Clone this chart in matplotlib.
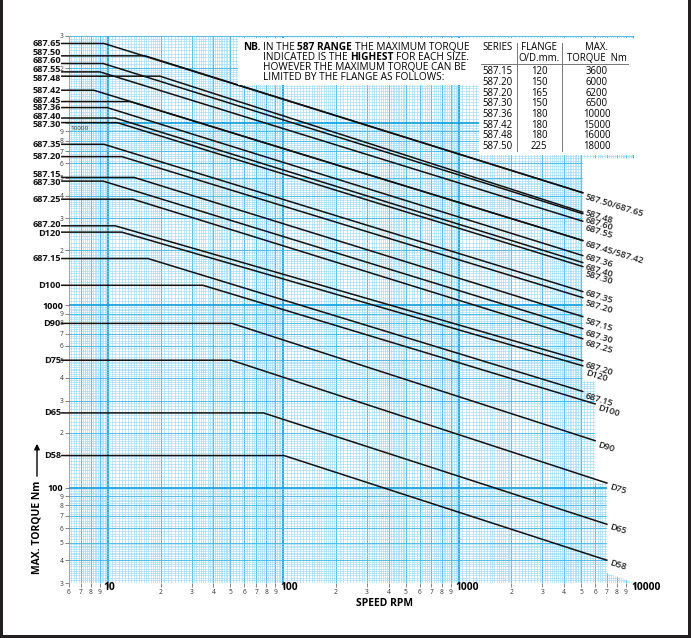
import numpy as np
import matplotlib
matplotlib.use('Agg')
import matplotlib.pyplot as plt
from matplotlib.patches import Rectangle, Polygon
from matplotlib.ticker import FixedLocator, FixedFormatter, NullFormatter

plt.rcParams['font.family'] = ['Open Sans', 'DejaVu Sans']

W, H = 691, 638

# curves: flat torque up to the knee, then down to the end point
series = ['687.65', '587.50', '687.60', '687.55', '587.48', '587.42', '687.45',
          '587.36', '687.40', '587.30', '687.35', '587.20', '587.15', '687.30',
          '687.25', '687.20', 'D120', '687.15', 'D100', 'D90', 'D75', 'D65', 'D58']
flat_torque = [27300, 23350, 21200, 19070, 18060, 15130, 13110, 12150, 10650, 10050,
               7640, 6540, 5030, 4800, 3820, 2730, 2520, 1806, 1288, 796, 500, 257, 150]
knee_rpm = [9.5, 16.3, 9.4, 9.0, 19.8, 8.3, 13.4, 9.9, 11.0, 11.3, 9.5, 12.0, 14.1,
            9.4, 13.9, 11.0, 12.0, 16.9, 34.8, 51.0, 50.5, 77.0, 101.0]
end_rpm = [5100, 5100, 5100, 5100, 5100, 5100, 5100, 5100, 5100, 5100, 5100, 5100,
           5100, 5100, 5100, 5100, 5100, 5100, 6000, 6000, 7000, 7000, 7000]
end_torque = [4145, 4145, 3180, 2893, 3243, 2267, 2267, 1875, 1716, 1632, 1190, 1102,
              867, 745, 656, 497, 466, 337, 288, 181, 106, 63, 40]
end_labels = ['587.50/687.65', '', '687.60', '687.55', '587.48', '687.45/587.42', '',
              '687.36', '687.40', '587.30', '687.35', '587.20', '587.15', '687.30',
              '687.25', '687.20', 'D120', '687.15', 'D100', 'D90', 'D75', 'D65', 'D58']

# flange table
tbl_series = ['587.15', '587.20', '587.20', '587.30', '587.36', '587.42', '587.48', '587.50']
tbl_flange = ['120', '150', '165', '150', '180', '180', '180', '225']
tbl_torque = ['3600', '6000', '6200', '6500', '10000', '15000', '16000', '18000']

x_major = [10, 100, 1000, 10000]
x_minor = [6, 7, 8, 9, 20, 30, 40, 50, 60, 70, 80, 90, 200, 300, 400, 500, 600, 700,
           800, 900, 2000, 3000, 4000, 5000, 6000, 7000, 8000, 9000]
y_major = [100, 1000, 10000]
y_minor = [30, 40, 50, 60, 70, 80, 90, 200, 300, 400, 500, 600, 700, 800, 900, 2000,
           3000, 4000, 5000, 6000, 7000, 8000, 9000, 20000, 30000]

# label nudges in pixels, layout only
right_nudge = {'587.48': 0, '687.60': 6, '687.55': 6, '687.36': 1, '587.30': 7,
               '687.35': 1, '587.20': 5, 'D120': 7, '687.45/587.42': 3, 'D65': 2, 'D58': 2}
left_nudge = {'587.50': 3, '687.60': 3, '687.55': 2.5, '587.48': -2, '687.40': 2,
              '587.30': -1.5, '687.45': 1.5, '587.36': 0, '587.15': 3, '687.30': -1.5,
              '687.20': 1, 'D120': -1}

fig = plt.figure(figsize=(W / 100, H / 100), dpi=100)
ax = fig.add_axes([69 / W, 55 / H, 565 / W, 547 / H])
ax.set_xscale('log')
ax.set_yscale('log')
ax.set_xlim(6, 10000)
ax.set_ylim(30, 30000)
for s in ax.spines.values():
    s.set_visible(False)


def paper_lines(lo, hi):
    fine, mid, major = [], [], []
    steps = np.round(np.concatenate([np.arange(1, 2, 0.05), np.arange(2, 5, 0.1),
                                     np.arange(5, 10, 0.2)]), 2)
    d = 1
    while d <= hi:
        for m in steps:
            v = m * d
            if v < lo * 0.999 or v > hi * 1.001:
                continue
            if m == 1:
                major.append(v)
            elif m == int(m):
                mid.append(v)
            else:
                fine.append(v)
        d *= 10
    return fine, mid, major


gx = paper_lines(6, 10000)
gy = paper_lines(30, 30000)
styles = [('#8fd6f4', 0.38), ('#45b9e8', 0.65), ('#1ca3de', 1.3)]
for vals, (c, lw) in zip(gx, styles):
    ax.vlines(vals, 30, 30000, color=c, lw=lw, zorder=1)
for vals, (c, lw) in zip(gy, styles):
    ax.hlines(vals, 6, 10000, color=c, lw=lw, zorder=1)

# white cut-out on the right where the paper stops
ax.add_patch(Polygon([(5100, 6400), (10000, 6400), (10000, 30), (7000, 34), (7000, 106),
                      (6000, 106), (6000, 385), (5100, 385)],
                     closed=True, facecolor='white', edgecolor='none', zorder=2))

for name, t0, n0, n1, t1, lab in zip(series, flat_torque, knee_rpm, end_rpm, end_torque, end_labels):
    ax.plot([5.46, n0, n1], [t0, t0, t1], color='#111111', lw=1.1, zorder=3,
            clip_on=False, solid_joinstyle='miter')
    ax.annotate(name, (5.46, t0), xytext=(-1, left_nudge.get(name, 0)), textcoords='offset pixels',
                ha='right', va='center', fontsize=6.6, fontweight='bold',
                color='#111111', annotation_clip=False, zorder=5)
    if lab:
        ax.annotate(lab, (n1, t1), xytext=(3, -right_nudge.get(lab, 4)), textcoords='offset pixels',
                    ha='left', va='center', rotation=-17, rotation_mode='anchor',
                    fontsize=6.6, fontweight='semibold', color='#222222',
                    annotation_clip=False, zorder=5)

ax.xaxis.set_major_locator(FixedLocator(x_major))
ax.xaxis.set_major_formatter(NullFormatter())
ax.xaxis.set_minor_locator(FixedLocator(x_minor))
ax.xaxis.set_minor_formatter(FixedFormatter([str(v)[0] for v in x_minor]))
ax.yaxis.set_major_locator(FixedLocator(y_major))
ax.yaxis.set_major_formatter(FixedFormatter(['100', '1000', '']))
ax.yaxis.set_minor_locator(FixedLocator(y_minor))
ax.yaxis.set_minor_formatter(FixedFormatter([str(v)[0] for v in y_minor]))
ax.tick_params(which='both', direction='out', length=3, width=0.5, color='#555555', pad=1)
ax.tick_params(which='minor', labelsize=4.8, labelcolor='#333333')
ax.tick_params(which='major', labelsize=6.5)
for lab in ax.get_yticklabels():
    lab.set_fontweight('bold')

# decade labels on the speed axis sit just right of their tick
for v in x_major:
    ax.annotate(str(v), (v, 30), xytext=(1 if v == 10 else -3, -5), textcoords='offset pixels',
                ha='center' if v == 10 else 'left', va='center', fontsize=7.4,
                fontweight='bold', annotation_clip=False)
ax.text(6.15, 9600, '10000', fontsize=4.5, color='#333333', va='top', ha='left', zorder=5)


def fx(x):
    return x / W


def fy(y):
    return 1 - y / H


fig.text(fx(384), fy(603), 'SPEED RPM', fontsize=7.5, fontweight='bold', ha='center', va='center')
fig.text(fx(37), fy(527), 'MAX. TORQUE Nm', fontsize=7.5, fontweight='bold', rotation=90,
         ha='center', va='center')
ax.annotate('', xy=(fx(37), fy(441)), xytext=(fx(37), fy(479)), xycoords='figure fraction',
            arrowprops=dict(arrowstyle='-|>', lw=1.0, color='black', mutation_scale=8))

# note box and flange table
fig.patches.append(Rectangle((fx(238), fy(85)), (480 - 238) / W, 47 / H, transform=fig.transFigure,
                             facecolor='white', edgecolor='none', zorder=6))
fig.patches.append(Rectangle((fx(479), fy(155)), (634 - 479) / W, 117 / H, transform=fig.transFigure,
                             facecolor='white', edgecolor='none', zorder=6))

renderer = fig.canvas.get_renderer()


def rich_line(x, y, parts, size=7.3):
    for s, w in parts:
        t = fig.text(fx(x), fy(y), s, fontsize=size, fontweight=w, ha='left', va='center', zorder=7)
        bb = t.get_window_extent(renderer=renderer)
        x = bb.x1 + 2.6


rich_line(243, 47, [('NB.', 'bold')])
rich_line(263, 47, [('IN THE', 'normal'), ('587 RANGE', 'bold'), ('THE MAXIMUM TORQUE', 'normal')])
rich_line(263, 57, [('INDICATED IS THE', 'normal'), ('HIGHEST', 'bold'), ('FOR EACH SIZE.', 'normal')])
rich_line(263, 67, [('HOWEVER THE MAXIMUM TORQUE CAN BE', 'normal')])
rich_line(263, 77, [('LIMITED BY THE FLANGE AS FOLLOWS:', 'normal')])

fs = 6.9
fig.text(fx(482), fy(47.5), 'SERIES', fontsize=fs, ha='left', va='center', zorder=7)
fig.text(fx(539), fy(47.5), 'FLANGE', fontsize=fs, ha='center', va='center', zorder=7)
fig.text(fx(539), fy(58.5), 'O/D.mm.', fontsize=fs, ha='center', va='center', zorder=7)
fig.text(fx(597), fy(47.5), 'MAX.', fontsize=fs, ha='center', va='center', zorder=7)
fig.text(fx(597), fy(58.5), 'TORQUE  Nm', fontsize=fs, ha='center', va='center', zorder=7)
fig.add_artist(plt.Line2D([fx(481), fx(628)], [fy(64), fy(64)], color='#777777', lw=0.7, zorder=7))
for xv in (517.3, 561.7):
    fig.add_artist(plt.Line2D([fx(xv), fx(xv)], [fy(43), fy(151)], color='#777777', lw=0.7, zorder=7))
for i, (s, f, t) in enumerate(zip(tbl_series, tbl_flange, tbl_torque)):
    yy = fy(71.7 + 10.7 * i)
    fig.text(fx(482), yy, s, fontsize=fs, ha='left', va='center', zorder=7)
    fig.text(fx(539), yy, f, fontsize=fs, ha='center', va='center', zorder=7)
    fig.text(fx(597), yy, t, fontsize=fs, ha='center', va='center', zorder=7)

# dark frame on left, right and bottom
for r in [(0, 0, 3, H), (688, 0, 3, H), (0, 0, W, 3)]:
    fig.patches.append(Rectangle((r[0] / W, r[1] / H), r[2] / W, r[3] / H, transform=fig.transFigure,
                                 facecolor='#231f20', edgecolor='none', zorder=8))

fig.savefig('out.png', dpi=100)
